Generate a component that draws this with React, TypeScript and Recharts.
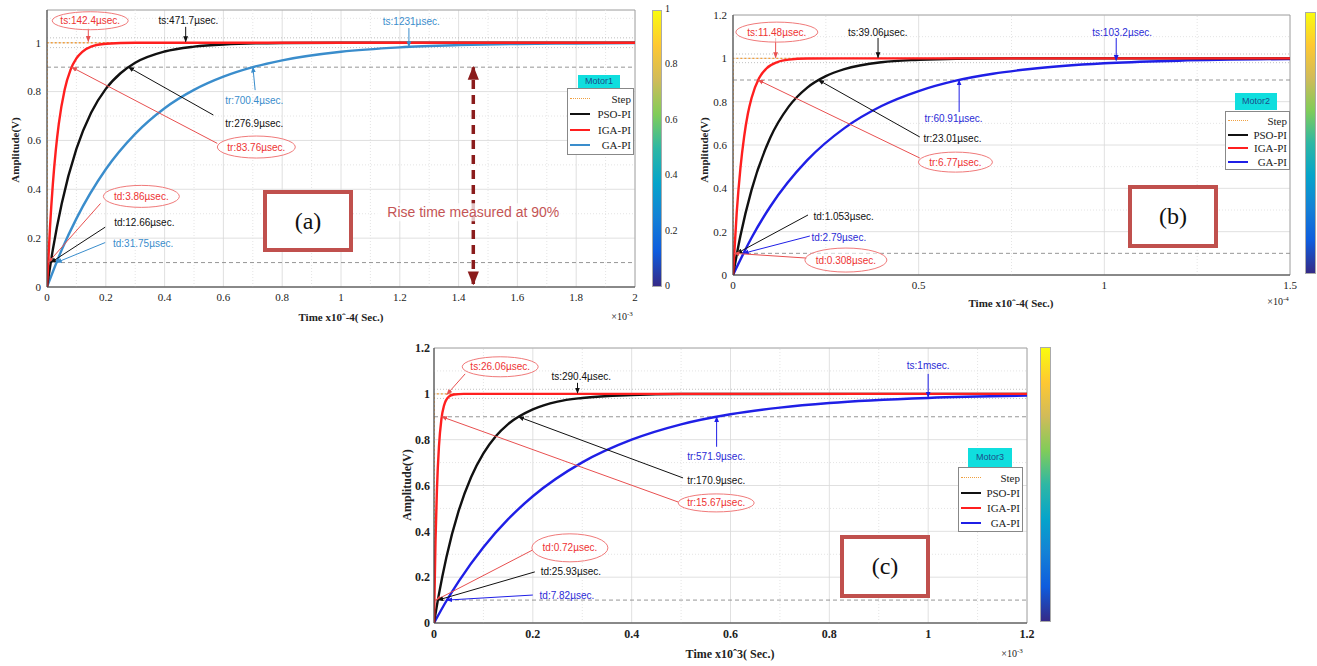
import React from 'react';
import { LineChart, Line, XAxis, YAxis, CartesianGrid, ReferenceLine, ReferenceDot, ReferenceArea } from 'recharts';

const SERIF = '"Liberation Serif","Times New Roman",serif';
const SANS = '"Liberation Sans",Arial,sans-serif';

const RED = '#ff1f1f';
const RED_T = '#ee3333';
const RED_L = '#e85050';
const BLK = '#111111';
const SB = '#3a8dcc';
const BLUE = '#1f1fe6';
const BLUE_T = '#2b2bd6';
const STEP = '#f0a040';
const DR = '#8b1c1c';

// ---------- Panel (a): Motor1 ----------
const aXTicks = [0, 0.2, 0.4, 0.6, 0.8, 1, 1.2, 1.4, 1.6, 1.8, 2];
const aYTicks = [0, 0.2, 0.4, 0.6, 0.8, 1];
const aXMinor = [0.1, 0.3, 0.5, 0.7, 0.9, 1.1, 1.3, 1.5, 1.7, 1.9];
const aYMinor = [0.3, 0.5, 0.7, 1.1];
const aStep = [[0, 0], [0, 1], [2, 1]];
const aIGA = [[0, 0], [0.01, 0.24], [0.02, 0.423], [0.03, 0.561], [0.04, 0.667], [0.06, 0.808], [0.08, 0.889], [0.1, 0.936], [0.12, 0.963], [0.15, 0.984], [0.2, 0.996], [0.3, 1.0], [1, 1], [2, 1]];
const aPSO = [[0, 0], [0.02, 0.154], [0.05, 0.341], [0.1, 0.565], [0.15, 0.713], [0.2, 0.811], [0.25, 0.875], [0.3, 0.918], [0.4, 0.964], [0.5, 0.984], [0.6, 0.993], [0.8, 0.999], [1, 1], [2, 1]];
const aGA = [[0, 0], [0.05, 0.152], [0.1, 0.28], [0.2, 0.482], [0.3, 0.627], [0.4, 0.732], [0.5, 0.807], [0.6, 0.861], [0.7, 0.9], [0.8, 0.928], [1, 0.963], [1.2, 0.981], [1.4, 0.99], [1.6, 0.995], [1.8, 0.997], [2, 0.999]];
const aNotes = [
  { x: 0.147, y: 1.09, t: 'ts:142.4µsec.', c: RED_T, e: [38, 9] },
  { x: 0.481, y: 1.093, t: 'ts:471.7µsec.', c: BLK },
  { x: 1.239, y: 1.085, t: 'ts:1231µsec.', c: SB },
  { x: 0.705, y: 0.765, t: 'tr:700.4µsec.', c: SB },
  { x: 0.705, y: 0.67, t: 'tr:276.9µsec.', c: BLK },
  { x: 0.712, y: 0.573, t: 'tr:83.76µsec.', c: RED_T, e: [39, 11] },
  { x: 0.321, y: 0.371, t: 'td:3.86µsec.', c: RED_T, e: [38, 11] },
  { x: 0.331, y: 0.265, t: 'td:12.66µsec.', c: BLK },
  { x: 0.327, y: 0.179, t: 'td:31.75µsec.', c: SB },
  { x: 1.45, y: 0.306, t: 'Rise time measured at 90%', c: '#c45555', fs: 14 },
];
const aLeads = [
  { x1: 0.1405, y1: 1.058, x2: 0.1405, y2: 1.005, c: RED_L, mk: 'r' },
  { x1: 0.4717, y1: 1.065, x2: 0.4717, y2: 1.004, c: BLK, mk: 'k' },
  { x1: 1.231, y1: 1.06, x2: 1.231, y2: 0.984, c: SB, mk: 's' },
  { x1: 0.708, y1: 0.806, x2: 0.7004, y2: 0.9, c: SB, mk: 's' },
  { x1: 0.566, y1: 0.704, x2: 0.2769, y2: 0.9, c: BLK, mk: 'k' },
  { x1: 0.579, y1: 0.588, x2: 0.0838, y2: 0.9, c: RED_L, mk: 'r' },
  { x1: 0.182, y1: 0.342, x2: 0.0039, y2: 0.1, c: RED_L, mk: 'r' },
  { x1: 0.198, y1: 0.245, x2: 0.0127, y2: 0.1, c: BLK, mk: 'k' },
  { x1: 0.198, y1: 0.182, x2: 0.0318, y2: 0.1, c: SB, mk: 's' },
  { x1: 1.45, y1: 0.012, x2: 1.45, y2: 0.9, c: DR, mk: 'd', w: 3.5, dash: '9 6', both: true },
];

// ---------- Panel (b): Motor2 ----------
const bXTicks = [0, 0.5, 1, 1.5];
const bYTicks = [0, 0.2, 0.4, 0.6, 0.8, 1, 1.2];
const bXMinor = [0.25, 0.75, 1.25];
const bYMinor = [0.3, 0.5, 0.7, 1.1];
const bStep = [[0, 0], [0, 1], [1.5, 1]];
const bIGA = [[0, 0], [0.01, 0.288], [0.02, 0.493], [0.03, 0.639], [0.04, 0.744], [0.05, 0.817], [0.07, 0.908], [0.09, 0.953], [0.12, 0.983], [0.15, 0.994], [0.2, 0.999], [0.3, 1], [1.5, 1]];
const bPSO = [[0, 0], [0.02, 0.181], [0.05, 0.393], [0.1, 0.632], [0.15, 0.777], [0.2, 0.865], [0.25, 0.918], [0.3, 0.95], [0.4, 0.982], [0.5, 0.993], [0.6, 0.998], [0.8, 1], [1.5, 1]];
const bGA = [[0, 0], [0.05, 0.172], [0.1, 0.315], [0.2, 0.53], [0.3, 0.678], [0.4, 0.78], [0.5, 0.849], [0.6, 0.897], [0.7, 0.929], [0.8, 0.951], [1, 0.977], [1.2, 0.989], [1.5, 0.997]];
const bNotes = [
  { x: 0.118, y: 1.121, t: 'ts:11.48µsec.', c: RED_T, e: [41, 10] },
  { x: 0.39, y: 1.121, t: 'ts:39.06µsec.', c: BLK },
  { x: 1.048, y: 1.121, t: 'ts:103.2µsec.', c: BLUE_T },
  { x: 0.594, y: 0.724, t: 'tr:60.91µsec.', c: BLUE_T },
  { x: 0.591, y: 0.632, t: 'tr:23.01µsec.', c: BLK },
  { x: 0.599, y: 0.521, t: 'tr:6.77µsec.', c: RED_T, e: [37, 10] },
  { x: 0.298, y: 0.268, t: 'td:1.053µsec.', c: BLK },
  { x: 0.285, y: 0.175, t: 'td:2.79µsec.', c: BLUE_T },
  { x: 0.304, y: 0.069, t: 'td:0.308µsec.', c: RED_T, e: [41, 12] },
];
const bLeads = [
  { x1: 0.1148, y1: 1.094, x2: 0.1148, y2: 1.003, c: RED_L, mk: 'r' },
  { x1: 0.3906, y1: 1.094, x2: 0.3906, y2: 1.003, c: BLK, mk: 'k' },
  { x1: 1.032, y1: 1.094, x2: 1.032, y2: 0.99, c: BLUE, mk: 'b' },
  { x1: 0.609, y1: 0.752, x2: 0.609, y2: 0.9, c: BLUE, mk: 'b' },
  { x1: 0.503, y1: 0.637, x2: 0.2301, y2: 0.9, c: BLK, mk: 'k' },
  { x1: 0.503, y1: 0.54, x2: 0.0677, y2: 0.9, c: RED_L, mk: 'r' },
  { x1: 0.202, y1: 0.277, x2: 0.0105, y2: 0.1, c: BLK, mk: 'k' },
  { x1: 0.207, y1: 0.18, x2: 0.0279, y2: 0.1, c: BLUE, mk: 'b' },
  { x1: 0.199, y1: 0.078, x2: 0.0031, y2: 0.1, c: RED_L, mk: 'r' },
];

// ---------- Panel (c): Motor3 ----------
const cXTicks = [0, 0.2, 0.4, 0.6, 0.8, 1, 1.2];
const cYTicks = [0, 0.2, 0.4, 0.6, 0.8, 1, 1.2];
const cXMinor = [0.1, 0.3, 0.5, 0.7, 0.9, 1.1];
const cYMinor = [0.3, 0.5, 0.7, 1.1];
const cStep = [[0, 0], [0, 1], [1.2, 1]];
const cIGA = [[0, 0], [0.003, 0.357], [0.006, 0.586], [0.01, 0.77], [0.015, 0.89], [0.02, 0.947], [0.03, 0.988], [0.04, 0.997], [0.06, 1], [1.2, 1]];
const cPSO = [[0, 0], [0.01, 0.126], [0.025, 0.286], [0.05, 0.49], [0.075, 0.636], [0.1, 0.74], [0.125, 0.815], [0.15, 0.868], [0.2, 0.932], [0.25, 0.966], [0.3, 0.982], [0.4, 0.995], [0.5, 0.999], [1.2, 1]];
const cGA = [[0, 0], [0.025, 0.096], [0.05, 0.182], [0.1, 0.331], [0.15, 0.453], [0.2, 0.553], [0.3, 0.701], [0.4, 0.8], [0.5, 0.867], [0.6, 0.911], [0.7, 0.94], [0.8, 0.96], [1, 0.982], [1.2, 0.992]];
const cNotes = [
  { x: 0.134, y: 1.118, t: 'ts:26.06µsec.', c: RED_T, e: [38, 10] },
  { x: 0.298, y: 1.074, t: 'ts:290.4µsec.', c: BLK },
  { x: 1.0, y: 1.122, t: 'ts:1msec.', c: BLUE_T },
  { x: 0.571, y: 0.725, t: 'tr:571.9µsec.', c: BLUE_T },
  { x: 0.571, y: 0.624, t: 'tr:170.9µsec.', c: BLK },
  { x: 0.571, y: 0.524, t: 'tr:15.67µsec.', c: RED_T, e: [38, 9] },
  { x: 0.275, y: 0.328, t: 'td:0.72µsec.', c: RED_T, e: [38, 14] },
  { x: 0.277, y: 0.223, t: 'td:25.93µsec.', c: BLK },
  { x: 0.269, y: 0.122, t: 'td:7.82µsec.', c: BLUE_T },
];
const cLeads = [
  { x1: 0.063, y1: 1.087, x2: 0.026, y2: 0.997, c: RED_L, mk: 'r' },
  { x1: 0.2904, y1: 1.048, x2: 0.2904, y2: 1.003, c: BLK, mk: 'k' },
  { x1: 1.0, y1: 1.087, x2: 1.0, y2: 0.985, c: BLUE, mk: 'b' },
  { x1: 0.5719, y1: 0.769, x2: 0.5719, y2: 0.9, c: BLUE, mk: 'b' },
  { x1: 0.504, y1: 0.633, x2: 0.1709, y2: 0.9, c: BLK, mk: 'k' },
  { x1: 0.494, y1: 0.528, x2: 0.0157, y2: 0.9, c: RED_L, mk: 'r' },
  { x1: 0.2, y1: 0.319, x2: 0.004, y2: 0.1, c: RED_L, mk: 'r' },
  { x1: 0.204, y1: 0.223, x2: 0.0078, y2: 0.1, c: BLK, mk: 'k' },
  { x1: 0.2, y1: 0.122, x2: 0.026, y2: 0.1, c: BLUE, mk: 'b' },
];

const legendNames = ['Step', 'PSO-PI', 'IGA-PI', 'GA-PI'];
const cbarLabels = ['1', '0.8', '0.6', '0.4', '0.2', '0'];
const PARULA = ['#352a87', '#0f5cdd', '#1481d6', '#06a4ca', '#2eb7a4', '#81cc59', '#d1bb59', '#fec832', '#f9fb0e'];
const MARKERS = [['r', RED_L, 6], ['k', BLK, 6], ['s', SB, 6], ['b', BLUE, 6], ['d', DR, 14]];

const toData = (pts: number[][]) => pts.map(([x, y]) => ({ x, y }));

function Panel(p: any) {
  const fs = p.bold ? 12 : 11;
  const fw = p.bold ? 700 : 400;
  const xTick = (t: any) => (
    <text x={t.x} y={t.y} dy="0.71em" textAnchor="middle" fontFamily={SERIF} fontSize={fs} fontWeight={fw} fill="#222">{t.payload.value}</text>
  );
  const yTick = (t: any) => (
    <text x={t.x} y={t.y} dy="0.355em" textAnchor="end" fontFamily={SERIF} fontSize={fs} fontWeight={fw} fill="#222">{t.payload.value}</text>
  );
  const series = [
    { id: 'step', pts: p.step, color: STEP, w: 1.3, dash: '2 2', lin: true },
    { id: 'ga', pts: p.ga, color: p.gaColor, w: 2.4 },
    { id: 'pso', pts: p.pso, color: BLK, w: 2.4 },
    { id: 'iga', pts: p.iga, color: RED, w: 2.4 },
  ];
  return (
    <div style={{ position: 'absolute', left: p.box[0], top: p.box[1] }}>
      <LineChart width={p.box[2]} height={p.box[3]} margin={p.margin}>
        <CartesianGrid stroke="#d8d8d8" strokeWidth={0.8} />
        {p.xMinor.map((v: number) => <ReferenceLine key={'xm' + v} x={v} stroke="#e4e4e4" strokeDasharray="1 2" />)}
        {p.yMinor.map((v: number) => <ReferenceLine key={'ym' + v} y={v} stroke="#e4e4e4" strokeDasharray="1 2" />)}
        {[0.1, 0.9].map((v) => <ReferenceLine key={'d' + v} y={v} stroke="#8a8a8a" strokeWidth={0.9} strokeDasharray="4 3" />)}
        {[0.98, 1.02].map((v) => <ReferenceLine key={'o' + v} y={v} stroke="#b0b0b0" strokeWidth={0.8} strokeDasharray="1 2" />)}
        <XAxis type="number" dataKey="x" domain={p.xDom} ticks={p.xTicks} interval={0} height={30} tickLine={false} tickSize={4} axisLine={{ stroke: '#444' }} tick={xTick} allowDataOverflow />
        <YAxis type="number" dataKey="y" domain={p.yDom} ticks={p.yTicks} interval={0} width={p.yW} tickLine={false} tickSize={p.bold ? 2 : 4} axisLine={{ stroke: '#444' }} tick={yTick} allowDataOverflow />
        <ReferenceArea x1={p.xDom[0]} x2={p.xDom[1]} y1={p.yDom[0]} y2={p.yDom[1]} fill="none" stroke="#9a9a9a" strokeWidth={0.8} ifOverflow="visible" />
        {series.map((s) => (
          <Line key={s.id} data={toData(s.pts)} dataKey="y" type={s.lin ? 'linear' : 'monotone'} stroke={s.color} strokeWidth={s.w} strokeDasharray={s.dash} dot={false} activeDot={false} isAnimationActive={false} />
        ))}
        {p.leads.map((l: any, i: number) => (
          <ReferenceLine
            key={'l' + i}
            segment={[{ x: l.x1, y: l.y1 }, { x: l.x2, y: l.y2 }]}
            ifOverflow="visible"
            stroke={l.c}
            shape={(q: any) => (
              <line x1={q.x1} y1={q.y1} x2={q.x2} y2={q.y2} stroke={l.c} strokeWidth={l.w || 1} strokeDasharray={l.dash} markerEnd={`url(#m-${l.mk})`} markerStart={l.both ? `url(#m-${l.mk})` : undefined} />
            )}
          />
        ))}
        {p.notes.map((n: any, i: number) => (
          <ReferenceDot
            key={'n' + i}
            x={n.x}
            y={n.y}
            r={1}
            ifOverflow="visible"
            shape={(q: any) => (
              <g>
                {n.fs ? <rect x={q.cx - 98} y={q.cy - 9} width={196} height={18} fill="#ffffff" opacity={0.75} /> : null}
                {n.e ? <ellipse cx={q.cx} cy={q.cy} rx={n.e[0]} ry={n.e[1]} fill="#fff" fillOpacity={0.6} stroke="#f07a7a" strokeWidth={1} /> : null}
                <text x={q.cx} y={q.cy} textAnchor="middle" dominantBaseline="central" fontSize={n.fs || 10} fontFamily={SANS} fill={n.c}>
                  {n.t}
                </text>
              </g>
            )}
          />
        ))}
      </LineChart>
    </div>
  );
}

function LegendBox(p: any) {
  const cols = [STEP, BLK, RED, p.gaColor];
  return (
    <>
      <div style={{ position: 'absolute', left: p.tag[0], top: p.tag[1], width: p.tag[2], height: p.tag[3], background: '#10dede', color: '#1a4f8a', fontFamily: SANS, fontSize: 9, lineHeight: p.tag[3] + 'px', textAlign: 'center' }}>{p.title}</div>
      <div style={{ position: 'absolute', left: p.box[0], top: p.box[1], width: p.box[2], height: p.box[3], background: '#fff', border: '1px solid #888', boxSizing: 'border-box', padding: '2px 2px 0 2px' }}>
        {legendNames.map((nm, i) => (
          <div key={nm} style={{ display: 'flex', alignItems: 'center', height: p.row, fontFamily: SERIF, fontSize: 11, color: '#222' }}>
            <div style={{ width: 20, borderTop: i === 0 ? `1.5px dotted ${cols[i]}` : `2.5px solid ${cols[i]}`, marginRight: 1 }} />
            <div style={{ flex: 1, textAlign: 'right' }}>{nm}</div>
          </div>
        ))}
      </div>
    </>
  );
}

function ColorBar(p: any) {
  return (
    <>
      <div style={{ position: 'absolute', left: p.l, top: p.t, width: p.w, height: p.h, background: `linear-gradient(to top, ${PARULA.join(',')})`, border: '1px solid #aaa', boxSizing: 'border-box' }} />
      {p.labels
        ? cbarLabels.map((s, i) => (
            <div key={s} style={{ position: 'absolute', left: p.l + p.w + 3, top: p.t + (p.h * i) / (cbarLabels.length - 1) - 7, fontFamily: SERIF, fontSize: 10, color: '#222' }}>{s}</div>
          ))
        : null}
    </>
  );
}

function TagBox(p: any) {
  return (
    <div style={{ position: 'absolute', left: p.l, top: p.t, width: p.w, height: p.h, border: '4px solid #c0504d', background: '#fff', boxSizing: 'border-box', fontFamily: SERIF, fontSize: 24, color: '#111', display: 'flex', alignItems: 'center', justifyContent: 'center' }}>{p.text}</div>
  );
}

function Txt(p: any) {
  return (
    <div style={{ position: 'absolute', left: p.x, top: p.y, transform: `translate(-50%,-50%)${p.rot ? ' rotate(-90deg)' : ''}`, fontFamily: SERIF, fontSize: p.fs || 11, fontWeight: p.b ? 700 : 400, color: '#222', whiteSpace: 'nowrap' }}>{p.children}</div>
  );
}

export default function App() {
  return (
    <div style={{ position: 'absolute', left: 0, top: 0, width: 1317, height: 666, background: '#fff', overflow: 'hidden' }}>
      <svg width={0} height={0} style={{ position: 'absolute' }}>
        <defs>
          {MARKERS.map(([id, col, sz]) => (
            <marker key={id as string} id={'m-' + id} viewBox="0 0 10 10" refX={9} refY={5} markerWidth={sz as number} markerHeight={sz as number} markerUnits="userSpaceOnUse" orient="auto-start-reverse">
              <path d="M0,1 L10,5 L0,9 z" fill={col as string} />
            </marker>
          ))}
        </defs>
      </svg>

      {/* Panel a */}
      <Panel box={[0, 0, 700, 330]} margin={{ top: 10, right: 65, bottom: 13, left: 0 }} yW={47} xDom={[0, 2]} yDom={[0, 1.134]} xTicks={aXTicks} yTicks={aYTicks} xMinor={aXMinor} yMinor={aYMinor} step={aStep} iga={aIGA} pso={aPSO} ga={aGA} gaColor={SB} notes={aNotes} leads={aLeads} />
      <Txt x={341} y={317} b>Time x10ˆ-4( Sec.)</Txt>
      <Txt x={622} y={316} fs={10}>×10<sup style={{ fontSize: 7 }}>-3</sup></Txt>
      <Txt x={15} y={150} b rot>Amplitude(V)</Txt>
      <ColorBar l={652} t={10} w={10} h={277} labels />
      <LegendBox title="Motor1" tag={[578, 75, 42, 13]} box={[567, 88, 67, 67]} row={15.5} gaColor={SB} />
      <TagBox l={263} t={190} w={90} h={62} text="(a)" />

      {/* Panel b */}
      <Panel box={[690, 0, 627, 310]} margin={{ top: 15, right: 27, bottom: 5, left: 0 }} yW={43} xDom={[0, 1.5]} yDom={[0, 1.2]} xTicks={bXTicks} yTicks={bYTicks} xMinor={bXMinor} yMinor={bYMinor} step={bStep} iga={bIGA} pso={bPSO} ga={bGA} gaColor={BLUE} notes={bNotes} leads={bLeads} />
      <Txt x={1011} y={303} b>Time x10ˆ-4( Sec.)</Txt>
      <Txt x={1278} y={301} fs={10}>×10<sup style={{ fontSize: 7 }}>-4</sup></Txt>
      <Txt x={704} y={150} b rot>Amplitude(V)</Txt>
      <ColorBar l={1305} t={12} w={11} h={262} />
      <LegendBox title="Motor2" tag={[1235, 93, 42, 17]} box={[1225, 111, 65, 59]} row={13.7} gaColor={BLUE} />
      <TagBox l={1128} t={185} w={90} h={63} text="(b)" />

      {/* Panel c */}
      <Panel box={[390, 340, 700, 326]} margin={{ top: 8, right: 63, bottom: 13, left: 0 }} yW={44} xDom={[0, 1.2]} yDom={[0, 1.2]} xTicks={cXTicks} yTicks={cYTicks} xMinor={cXMinor} yMinor={cYMinor} step={cStep} iga={cIGA} pso={cPSO} ga={cGA} gaColor={BLUE} notes={cNotes} leads={cLeads} bold />
      <Txt x={730} y={654} b fs={12}>Time x10ˆ3( Sec.)</Txt>
      <Txt x={1012} y={653} fs={10}>×10<sup style={{ fontSize: 7 }}>-3</sup></Txt>
      <Txt x={407} y={485} b rot fs={12}>Amplitude(V)</Txt>
      <ColorBar l={1040} t={347} w={11} h={275} />
      <LegendBox title="Motor3" tag={[968, 448, 44, 19]} box={[958, 467, 65, 65]} row={15.2} gaColor={BLUE} />
      <TagBox l={840} t={535} w={90} h={63} text="(c)" />
    </div>
  );
}
